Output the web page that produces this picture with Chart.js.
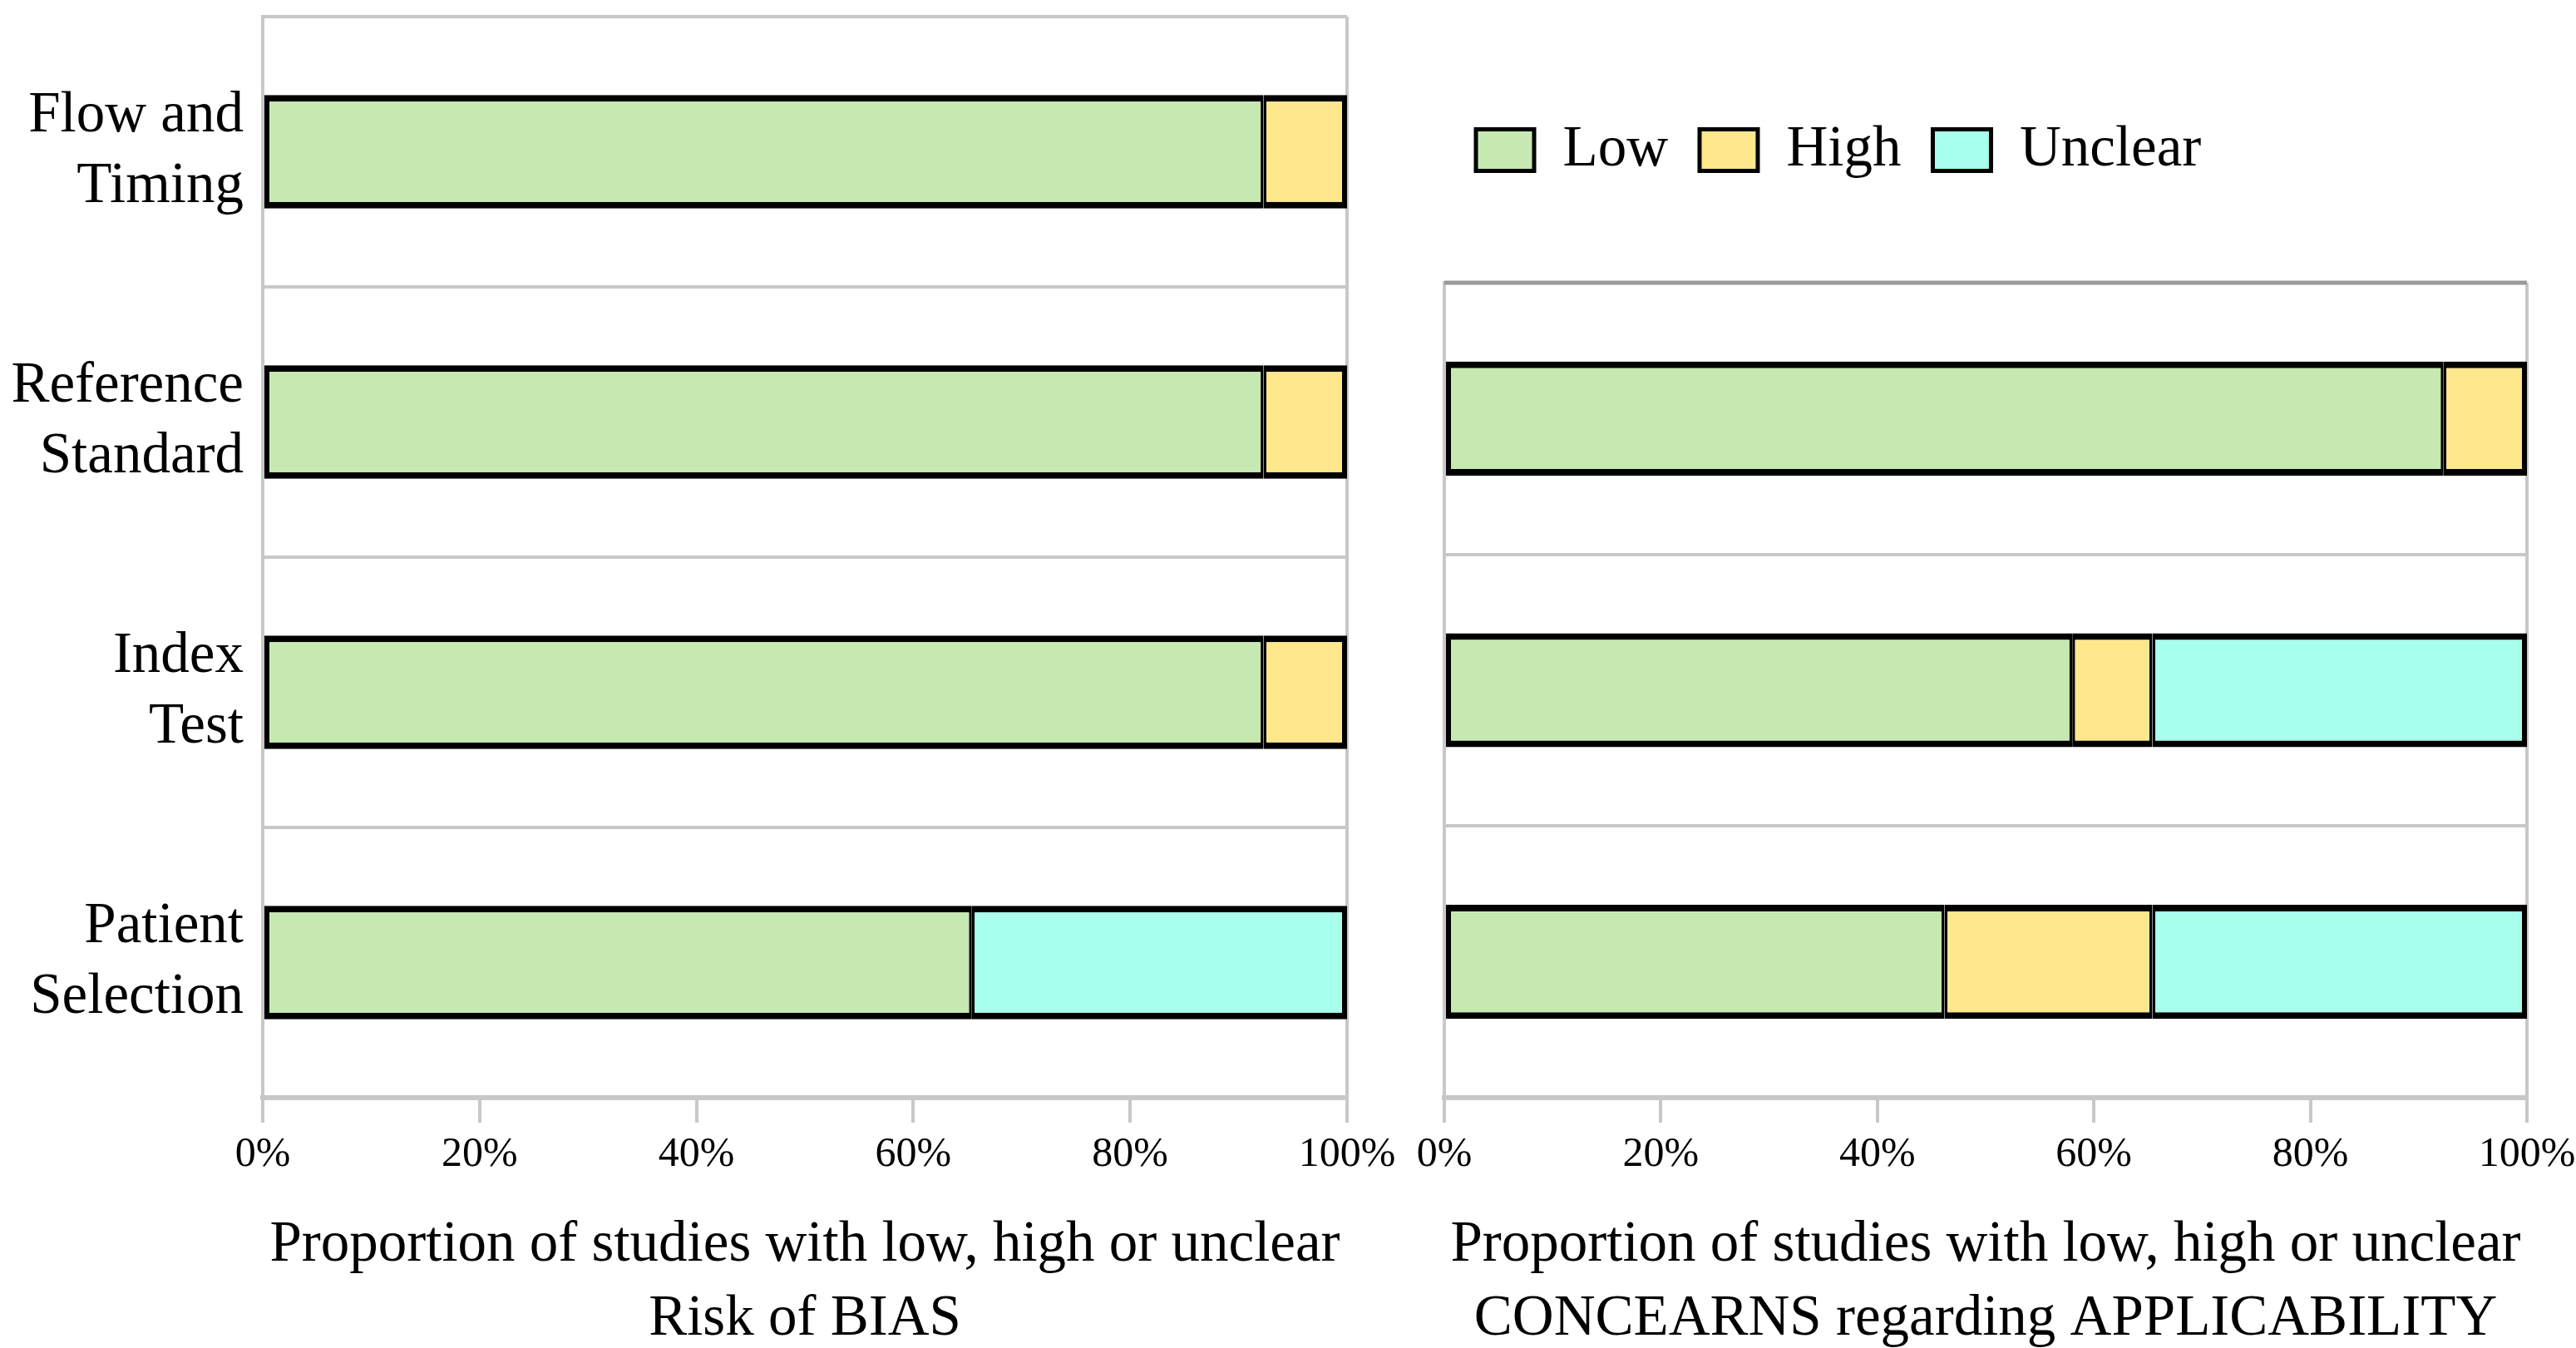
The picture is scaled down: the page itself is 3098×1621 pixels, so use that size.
<!DOCTYPE html>
<html>
<head>
<meta charset="utf-8">
<script src="https://cdn.jsdelivr.net/npm/chart.js@4.4.1/dist/chart.umd.min.js"></script>
<style>
    html, body { margin: 0; padding: 0; background: #fff; }
    body { width: 3098px; height: 1621px; position: relative; overflow: hidden; }
    .box { position: absolute; top: 0; height: 1621px; }
    #leftBox { left: 0; width: 1690px; }
    #rightBox { left: 1690px; width: 1408px; }
</style>
</head>
<body>
<div class="box" id="leftBox"><canvas id="biasChart"></canvas></div>
<div class="box" id="rightBox"><canvas id="applChart"></canvas></div>
<script>
// values (percent of studies)
const seriesNames = ['Low', 'High', 'Unclear'];
const seriesColors = ['#c6e9b1', '#ffe78b', '#a7ffec'];

const biasCategories = [['Flow and', 'Timing'], ['Reference', 'Standard'], ['Index', 'Test'], ['Patient', 'Selection']];
const biasLow = [92.3, 92.3, 92.3, 65.4];
const biasHigh = [7.7, 7.7, 7.7, 0];
const biasUnclear = [0, 0, 0, 34.6];

const applCategories = [['Reference', 'Standard'], ['Index', 'Test'], ['Patient', 'Selection']];
const applLow = [92.3, 58.0, 46.2];
const applHigh = [7.7, 7.4, 19.2];
const applUnclear = [0, 34.6, 34.6];

const xTicks = [0, 20, 40, 60, 80, 100];
const biasTitle = ['Proportion of studies with low, high or unclear', 'Risk of BIAS'];
const applTitle = ['Proportion of studies with low, high or unclear', 'CONCEARNS regarding APPLICABILITY'];

const serif = "'Liberation Serif', 'Times New Roman', serif";
const gridGray = '#c8c8c8';

Chart.defaults.font.family = serif;
Chart.defaults.color = '#000';

// border of each stacked piece: thinner where two pieces touch
function segBorder(ctx) {
    const i = ctx.dataIndex;
    if (i === undefined) return 5;
    const sets = ctx.chart.data.datasets;
    const d = ctx.datasetIndex;
    if (!(sets[d].data[i] > 0)) return 0;
    let before = false, after = false;
    sets.forEach((s, k) => {
        if (s.data[i] > 0) {
            if (k < d) before = true;
            if (k > d) after = true;
        }
    });
    return {top: 8, bottom: 8, left: before ? 3.5 : 6, right: after ? 3.5 : 6};
}

function makeDatasets(values) {
    return values.map((vals, k) => ({
        label: seriesNames[k],
        data: vals,
        backgroundColor: seriesColors[k],
        borderColor: '#000',
        borderWidth: segBorder,
        borderSkipped: false,
        categoryPercentage: 1,
        barPercentage: 0.42,
    }));
}

// extra gap below the legend
const legendGap = {
    id: 'legendGap',
    beforeInit(chart) {
        if (!chart.legend) return;
        const fit = chart.legend.fit;
        chart.legend.fit = function () {
            fit.call(this);
            this.height += 115;
        };
    }
};

// darker top edge on the applicability panel
const topEdge = {
    id: 'topEdge',
    beforeDatasetsDraw(chart, args, opts) {
        if (!opts.color) return;
        const a = chart.chartArea;
        const c = chart.ctx;
        c.save();
        c.strokeStyle = opts.color;
        c.lineWidth = 5;
        c.beginPath();
        c.moveTo(a.left, a.top);
        c.lineTo(a.right, a.top);
        c.stroke();
        c.restore();
    }
};

function buildOptions(showLabels, title, padding, withLegend, topColor) {
    return {
        indexAxis: 'y',
        responsive: true,
        maintainAspectRatio: false,
        animation: false,
        layout: {padding: padding},
        scales: {
            x: {
                stacked: true,
                min: 0,
                max: 100,
                afterBuildTicks: s => { s.ticks = xTicks.map(v => ({value: v})); },
                afterFit: s => {
                    s.height = 301;
                    s.paddingLeft = 0;
                    s.paddingRight = 0;
                },
                ticks: {
                    padding: 9,
                    color: '#000',
                    font: {family: serif, size: 50},
                    callback: v => v + '%'
                },
                grid: {
                    drawOnChartArea: true,
                    color: ctx => (ctx.tick && ctx.tick.value === 100) ? gridGray : 'rgba(0,0,0,0)',
                    tickColor: gridGray,
                    tickLength: 30,
                    lineWidth: 4,
                },
                border: {display: true, color: gridGray, width: 6},
                title: {
                    display: true,
                    text: title,
                    color: '#000',
                    padding: {top: 0, bottom: -10},
                    font: {family: serif, size: 69, lineHeight: 1.29}
                }
            },
            y: {
                stacked: true,
                afterFit: s => {
                    s.width = showLabels ? 316 : 0;
                    s.paddingTop = 0;
                    s.paddingBottom = 0;
                },
                ticks: {
                    display: showLabels,
                    padding: 23,
                    color: '#000',
                    font: {family: serif, size: 69, lineHeight: 1.23}
                },
                grid: {
                    offset: true,
                    drawTicks: false,
                    color: gridGray,
                    lineWidth: 4,
                },
                border: {display: true, color: gridGray, width: 4}
            }
        },
        plugins: {
            topEdge: {color: topColor},
            tooltip: {enabled: false},
            legend: {
                display: withLegend,
                position: 'top',
                align: 'start',
                labels: {
                    boxWidth: 70,
                    boxHeight: 50,
                    padding: 38,
                    color: '#000',
                    font: {family: serif, size: 69},
                    generateLabels: chart => Chart.defaults.plugins.legend.labels.generateLabels(chart)
                        .map(l => Object.assign(l, {lineWidth: 5, strokeStyle: '#000'}))
                }
            }
        }
    };
}

new Chart(document.getElementById('biasChart'), {
    type: 'bar',
    data: {
        labels: biasCategories,
        datasets: makeDatasets([biasLow, biasHigh, biasUnclear])
    },
    options: buildOptions(true, biasTitle, {top: 20, left: 0, right: 70, bottom: 0}, false, null),
    plugins: [topEdge]
});

new Chart(document.getElementById('applChart'), {
    type: 'bar',
    data: {
        labels: applCategories,
        datasets: makeDatasets([applLow, applHigh, applUnclear])
    },
    options: buildOptions(false, applTitle, {top: 108, left: 47, right: 59, bottom: 0}, true, '#999999'),
    plugins: [legendGap, topEdge]
});
</script>
</body>
</html>
